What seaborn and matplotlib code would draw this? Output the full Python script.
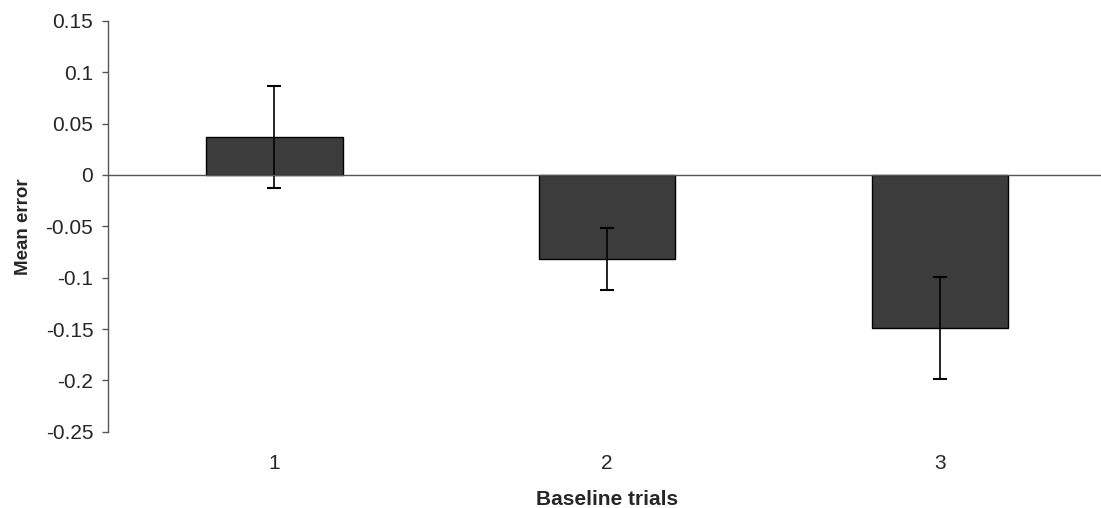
import pandas as pd
import matplotlib.pyplot as plt
import seaborn as sns

# data
trials = ['1', '2', '3']
mean_error = [0.037, -0.082, -0.149]
se = [0.050, 0.030, 0.050]

data = pd.DataFrame({'trial': trials, 'err': mean_error})

sns.set_style('white')
plt.rcParams['font.family'] = ['Liberation Sans', 'DejaVu Sans']

fig = plt.figure(figsize=(11.01, 5.08), dpi=100)
ax = fig.add_axes([0.098, 0.15, 0.907, 0.809])

sns.barplot(x='trial', y='err', data=data, color='#3c3c3c', width=0.41,
            edgecolor='black', linewidth=1, saturation=1, ax=ax)
ax.errorbar(range(len(trials)), mean_error, yerr=se, fmt='none',
            ecolor='black', elinewidth=1.2, capsize=5, capthick=1.5)

# zero line
ax.axhline(0, color='#555555', linewidth=1)

ax.set_xlim(-0.5, 2.5)
ax.set_ylim(-0.25, 0.15)
ax.set_yticks([0.15, 0.1, 0.05, 0, -0.05, -0.1, -0.15, -0.2, -0.25])
ax.set_yticklabels(['0.15', '0.1', '0.05', '0', '-0.05', '-0.1', '-0.15', '-0.2', '-0.25'])

for s in ['top', 'right', 'bottom']:
    ax.spines[s].set_visible(False)
ax.spines['left'].set_color('#555555')
ax.spines['left'].set_linewidth(1)
ax.tick_params(axis='y', direction='out', length=4.5, width=1, color='#555555',
               labelsize=15, pad=6, left=True)
ax.tick_params(axis='x', length=0, labelsize=15, pad=16)

ax.set_xlabel('Baseline trials', fontsize=15, fontweight='bold', labelpad=12)
ax.set_ylabel('Mean error', fontsize=13.5, fontweight='bold', labelpad=10)

plt.savefig('out.png', dpi=100)
